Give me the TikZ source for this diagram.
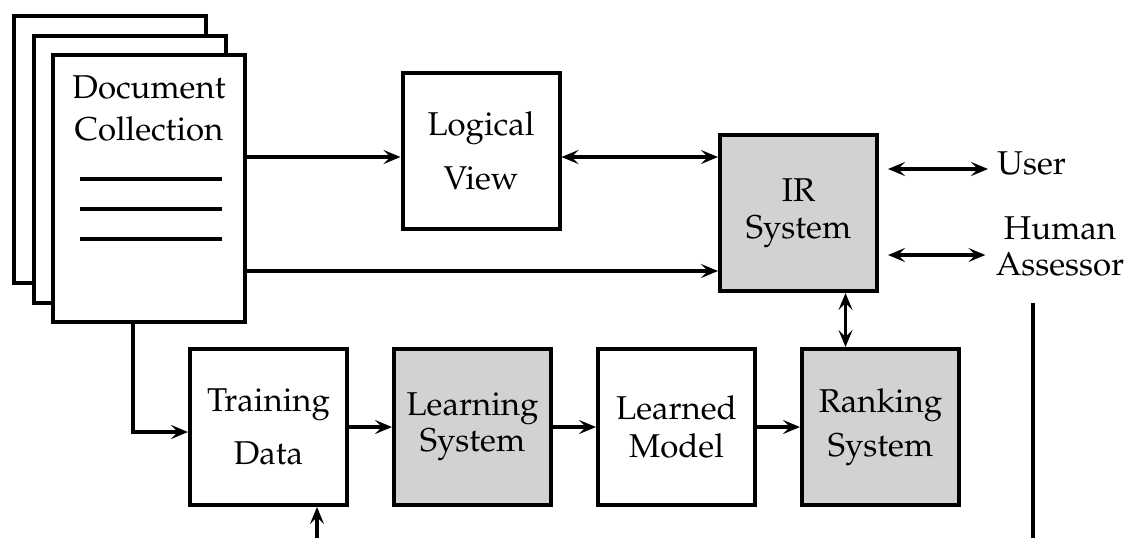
\documentclass[tikz,border=0pt]{standalone}
\usepackage[T1]{fontenc}
\usepackage{mathpazo}
\usepackage{tikz}
\usetikzlibrary{arrows.meta,positioning,calc}
\definecolor{irgray}{RGB}{211,209,212}

\begin{document}
\begin{tikzpicture}[x=0.5pt, y=-0.5pt,
  page/.style={rectangle, draw=black, line width=2pt, fill=white,
               minimum width=96pt, minimum height=133.5pt},
  bbox/.style={rectangle, draw=black, line width=2pt, fill=white,
               minimum width=78.5pt, minimum height=78pt,
               font=\fontsize{16.5}{18}\selectfont, align=center},
  gbox/.style={bbox, fill=irgray},
  lbl/.style={font=\fontsize{16.5}{18}\selectfont, align=center, inner sep=0pt},
  arr/.style={-{Stealth[length=8.5pt, width=7pt, inset=3.5pt]}, line width=1.8pt},
  dbl/.style={{Stealth[length=8.5pt, width=7pt, inset=3.5pt]}-{Stealth[length=8.5pt, width=7pt, inset=3.5pt]}, line width=1.8pt},
  rule/.style={line width=2pt}
]
\useasboundingbox (0,0) rectangle (1126,538);

% Document stack
\node[page] (back) at (110,149.5) {};
\node[page] (mid)  at (129.5,169) {};
\node[page] (doc)  at (149,188.5) {};
\node[lbl, anchor=north] (doclbl) at ([yshift=-11pt]doc.north) {Document\\[3pt]Collection};
\foreach \ly in {179,209,239}
  \draw[rule] (80,\ly) -- (222,\ly);

% Upper boxes
\node[bbox] (logical) at (481,151)   {Logical\\[9pt]View};
\node[gbox] (IR)      at (798.5,213) {IR\\[0.5pt]System};

% Lower row
\node[bbox] (training) at (268.5,427) {Training\\[8.5pt]Data};
\node[gbox] (learning) at (472.5,427) {Learning\\System};
\node[bbox] (learned)  at (676.5,427) {Learned\\[1pt]Model};
\node[gbox] (ranking)  at (880.5,427) {Ranking\\[4pt]System};

% Outside parties
\node[lbl, anchor=base west] (user) at (997,174) {User};
\node[lbl] (hum) at (1060,246) {Human\\Assessor};

% Arrows
\coordinate (r1) at ([yshift=-3pt]logical.west);
\coordinate (r2) at ([yshift=-29pt]IR.west);
\draw[arr] (doc.east |- r1) -- (r1);
\draw[dbl] (logical.east |- r1) -- (IR.west |- r1);
\draw[arr] (doc.east |- r2) -- (r2);
\draw[dbl, shorten <=4.5pt] ([yshift=2.5pt]IR.east |- user.base) -- ([xshift=-4.5pt,yshift=2.5pt]user.base west);
\draw[dbl, shorten <=4.5pt] ([yshift=-4.5pt]IR.east |- hum) -- ([xshift=-5pt,yshift=-4.5pt]hum.west);
\draw[dbl] ([xshift=-17.5pt]ranking.north |- IR.south) -- ([xshift=-17.5pt]ranking.north);

\draw[arr] ([xshift=-8pt]doc.south) |- ([yshift=-2.5pt]training.west);
\draw[arr] (training) -- (learning);
\draw[arr] (learning) -- (learned);
\draw[arr] (learned) -- (ranking);

\coordinate (tdin) at (317,538);
\draw[arr] (tdin) -- (tdin |- training.south);

\coordinate (hl) at (1033,303);
\coordinate (hb) at (1033,538);
\draw[rule] (hl) -- (hb);
\end{tikzpicture}
\end{document}
